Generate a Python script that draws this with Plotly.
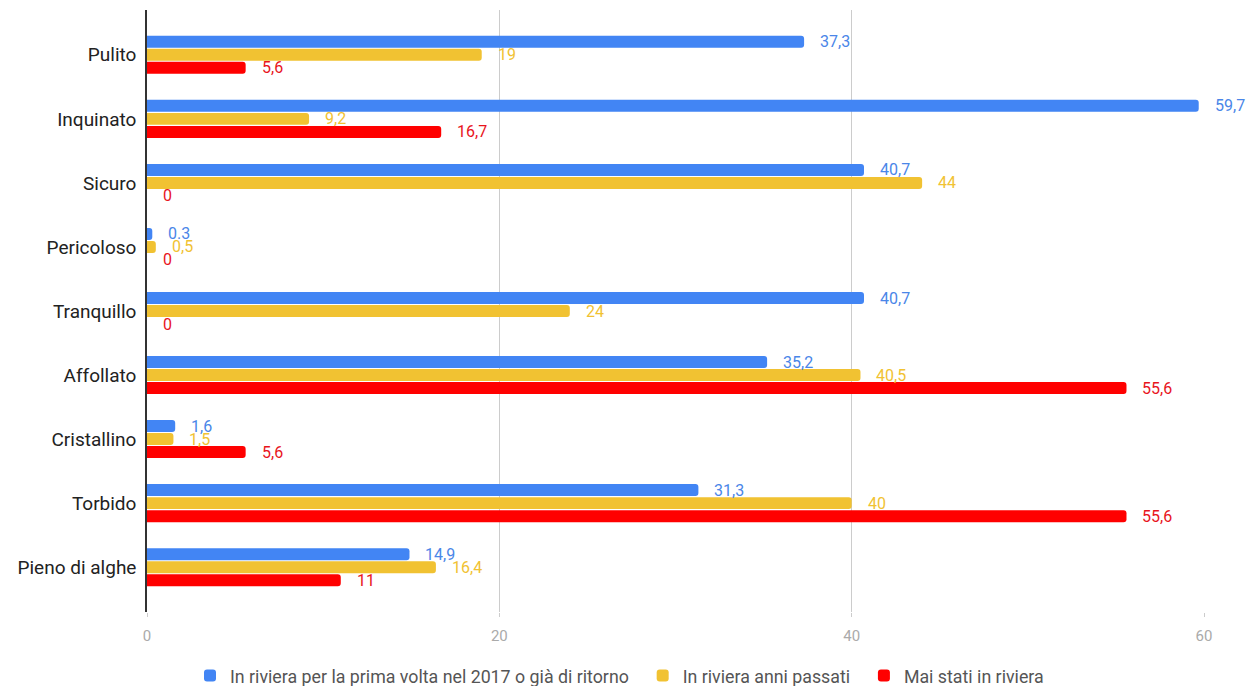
import plotly.graph_objects as go

categories = ["Pulito", "Inquinato", "Sicuro", "Pericoloso", "Tranquillo",
              "Affollato", "Cristallino", "Torbido", "Pieno di alghe"]
series_names = ["In riviera per la prima volta nel 2017 o già di ritorno",
                "In riviera anni passati", "Mai stati in riviera"]
blue_vals = [37.3, 59.7, 40.7, 0.3, 40.7, 35.2, 1.6, 31.3, 14.9]
yellow_vals = [19, 9.2, 44, 0.5, 24, 40.5, 1.5, 40, 16.4]
red_vals = [5.6, 16.7, 0, 0, 0, 55.6, 5.6, 55.6, 11]
blue_labels = ["37,3", "59,7", "40,7", "0.3", "40,7", "35,2", "1,6", "31,3", "14,9"]
yellow_labels = ["19", "9,2", "44", "0,5", "24", "40,5", "1,5", "40", "16,4"]
red_labels = ["5,6", "16,7", "0", "0", "0", "55,6", "5,6", "55,6", "11"]
x_ticks = [0, 20, 40, 60]

colors = ["#4285F4", "#F1C232", "#FF0000"]
label_colors = ["#4A86E8", "#F1C232", "#E8141C"]
all_vals = [blue_vals, yellow_vals, red_vals]
all_labels = [blue_labels, yellow_labels, red_labels]
yshifts = [13, 0, -13]

fig = go.Figure()
for name, vals, col in zip(series_names, all_vals, colors):
    fig.add_trace(go.Bar(
        y=categories, x=vals, name=name + "\u00a0\u00a0", orientation="h",
        marker=dict(color=col, cornerradius=3, line=dict(width=0)),
    ))

annotations = []
for vals, labs, lc, ys in zip(all_vals, all_labels, label_colors, yshifts):
    for c, v, t in zip(categories, vals, labs):
        annotations.append(dict(
            x=v, y=c, xref="x", yref="y", text=t, showarrow=False,
            xanchor="left", yanchor="middle", xshift=14, yshift=ys,
            font=dict(family="Roboto", size=16, color=lc),
        ))

fig.update_layout(
    width=1248, height=686,
    margin=dict(l=147, r=44, t=10, b=74),
    plot_bgcolor="white", paper_bgcolor="white",
    barmode="group", bargap=0.39, bargroupgap=0.08,
    font=dict(family="Roboto", color="#222"),
    annotations=annotations,
    showlegend=True,
    legend=dict(orientation="h", xref="container", yref="container",
                x=0.5, xanchor="center", y=0.0146, yanchor="middle",
                font=dict(family="Roboto", size=17.8, color="#555"),
                itemwidth=30, traceorder="normal"),
    xaxis=dict(range=[0, 60], tickvals=x_ticks, showgrid=True,
               gridcolor="#CCCCCC", gridwidth=1, zeroline=False,
               tickfont=dict(family="Roboto", size=15, color="#AAAAAA"),
               ticks="outside", ticklen=4, tickcolor="#CCCCCC",
               ticklabelstandoff=6, fixedrange=True),
    yaxis=dict(categoryorder="array", categoryarray=categories,
               range=[8.7, -0.7], showline=True, linecolor="#333333",
               linewidth=1.5, ticks="", ticklabelstandoff=5,
               tickfont=dict(family="Roboto", size=19, color="#222222"),
               showgrid=False, zeroline=False),
)

fig.write_html(
    "out.html",
    config={"displayModeBar": False},
    post_script="document.body.style.margin='0';document.body.style.overflow='hidden';",
)
